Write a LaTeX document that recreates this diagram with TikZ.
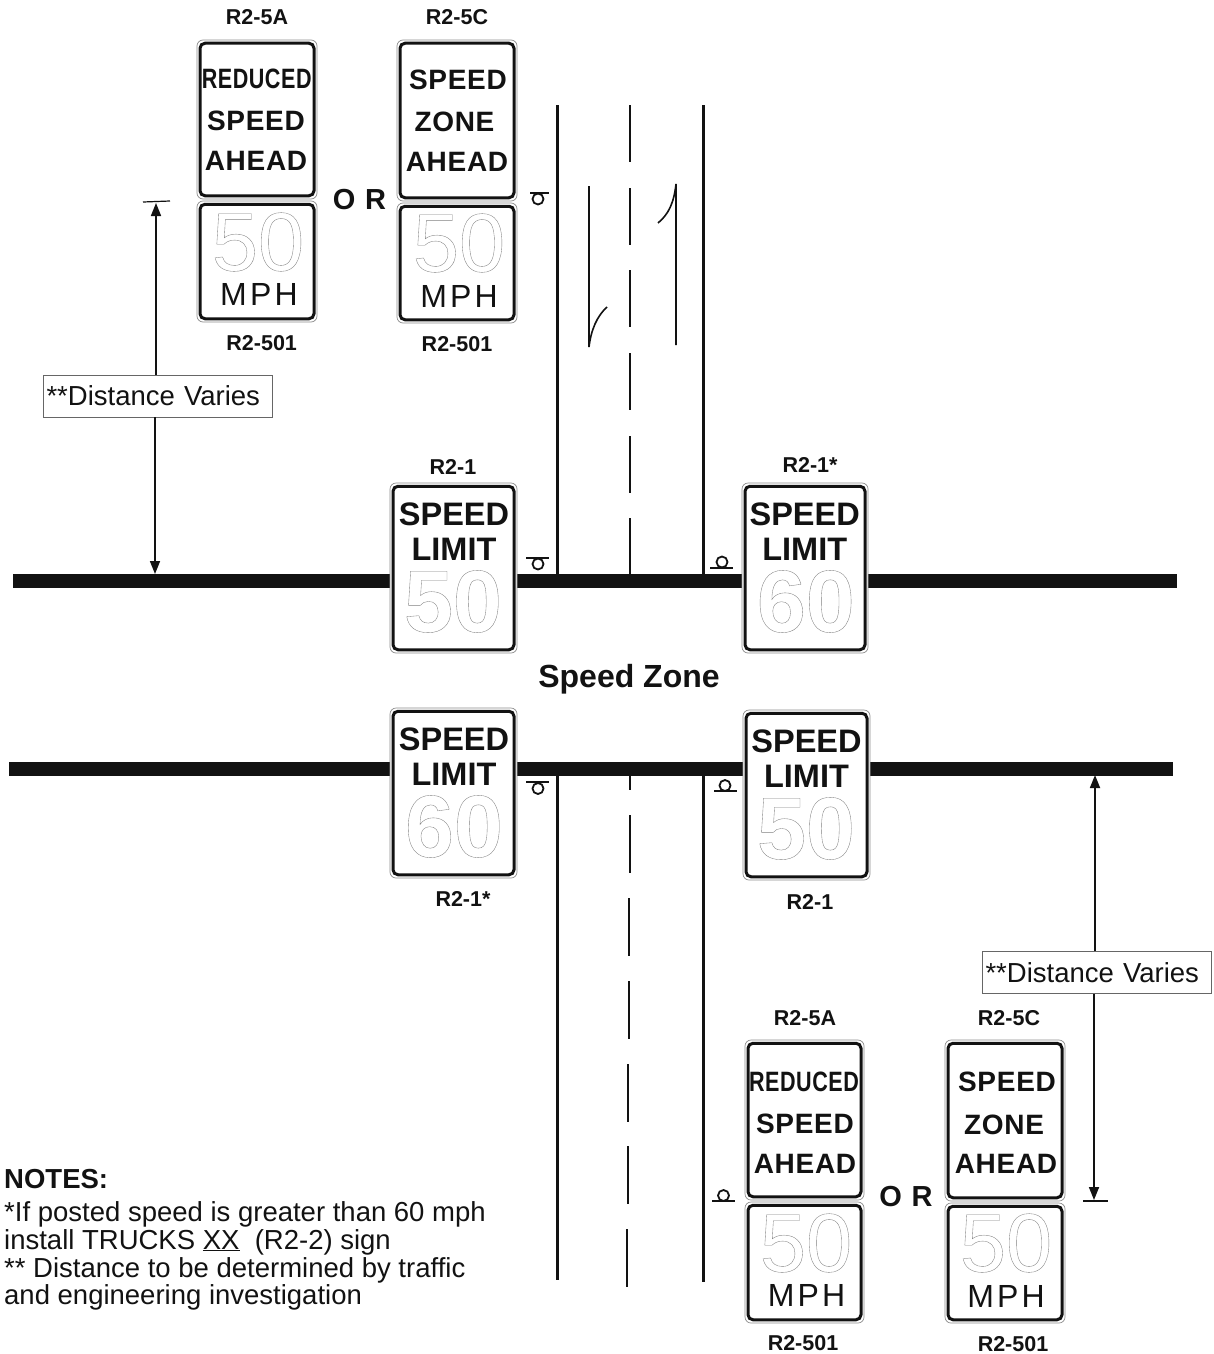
\documentclass[tikz,border=0pt]{standalone}
\usepackage{fontspec}
\usepackage{tikz}
\usetikzlibrary{arrows.meta}
\setmainfont{Liberation Sans}
\newfontfamily\signfont[LetterSpace=2.5]{Liberation Sans}
\newfontfamily\mphfont[LetterSpace=10]{Liberation Sans}

\newcommand{\hollow}[1]{\special{pdf:code 1 Tr 0.35 w 0.5 G}#1\special{pdf:code 0 Tr 0 G}}
\newcommand{\fsize}[1]{\fontsize{#1}{#1}\selectfont}

% plate with thin rim and heavy inner border
\newcommand{\signplate}[5]{
	\node[plate,minimum width=#4pt,minimum height=#5pt] (#1) at (#2,#3) {};
	\node[face,minimum width=#4pt-6pt,minimum height=#5pt-6.5pt] (#1face) at (#2,#3) {};
}

\tikzset{
	road/.style={line width=14pt,color=black!93},
	sideroad/.style={line width=3pt,color=black!93},
	centerline/.style={line width=2pt,color=black!93},
	laneline/.style={line width=1.6pt,color=black!93},
	plate/.style={shape=rectangle,draw=black!45,line width=0.7pt,fill=white,rounded corners=6pt,inner sep=0pt},
	face/.style={shape=rectangle,draw=black!93,line width=3pt,rounded corners=5pt,inner sep=0pt},
	codelabel/.style={inner sep=0pt,font=\fsize{21.5}\bfseries,text=black!93},
	aheadtext/.style={inner sep=0pt,font=\fsize{28}\signfont\bfseries,text=black!93},
	limittext/.style={inner sep=0pt,font=\fsize{32.5}\bfseries,text=black!93},
	mphtext/.style={inner sep=0pt,font=\fsize{32}\mphfont,text=black!93},
	smalldigits/.style={inner sep=0pt,font=\fsize{83}},
	bigdigits/.style={inner sep=0pt,font=\fsize{88}\bfseries},
	ortext/.style={inner sep=0pt,font=\fsize{29}\bfseries,text=black!93},
	distbox/.style={shape=rectangle,draw=black!60,line width=0.8pt,fill=white,inner ysep=0pt,inner xsep=3.5pt,text width=222pt,align=left,minimum height=42pt,font=\fsize{27.5},text=black!93},
	distarrow/.style={line width=1.7pt,color=black!93,-{Triangle[length=13pt,width=10pt]}},
	tick/.style={line width=1.2pt,color=black!93},
	postsym/.style={line width=1.8pt,color=black!93},
	notetext/.style={inner sep=0pt,anchor=base west,font=\fsize{27.5},text=black!93}
}

\begin{document}
\begin{tikzpicture}[x=1pt,y=-1pt]
	\useasboundingbox (0,0) rectangle (1214,1354);

	% roads
	\draw[road] (13,581) -- (1177,581);
	\draw[road] (9,769) -- (1173,769);
	\draw[sideroad] (557,105) -- (557,575);
	\draw[sideroad] (703,105) -- (703,575);
	\draw[sideroad] (557,775) -- (557,1280);
	\draw[sideroad] (703,775) -- (703,1282);
	\foreach \y in {105,188,270,353,436,518}
		\draw[centerline] (630,\y) -- (630,\y+57);
	\draw[centerline] (630,775) -- (630,790);
	\foreach \y/\x in {815/629.5,898/629,981/628.5,1064/628,1146/627.5,1229/627}
		\draw[centerline] (\x,\y) -- (\x,\y+58);

	% lane arrows
	\draw[laneline] (607,307) .. controls (597,316) and (591,330) .. (589,347) -- (589,186);
	\draw[laneline] (658,223) .. controls (669,214) and (674,202) .. (676,184) -- (676,345);

	% sign post symbols
	\draw[postsym] (530,193) -- (549,193);
	\draw[postsym] (538,199) circle (5.5);
	\draw[postsym] (526,558) -- (549,558);
	\draw[postsym] (538,564) circle (5.5);
	\draw[postsym] (710,568) -- (733,568);
	\draw[postsym] (722,562) circle (5.5);
	\draw[postsym] (526,782) -- (549,782);
	\draw[postsym] (538,788.5) circle (5.5);
	\draw[postsym] (714,791) -- (737,791);
	\draw[postsym] (725,785.5) circle (5.5);
	\draw[postsym] (712,1201) -- (735,1201);
	\draw[postsym] (723.5,1195.5) circle (5.5);

	% top approach signs
	\signplate{ahA}{257}{119.5}{120}{159}
	\signplate{mphA}{257}{261.5}{120}{121}
	\signplate{ahC}{457}{120.5}{120}{161}
	\signplate{mphC}{457}{263}{120}{120}
	\node[codelabel] (lblA) at (257,17.5) {R2-5A};
	\node[codelabel] (lblC) at (457,17.5) {R2-5C};
	\node[aheadtext] (aReduced) at (256.7,79) {\scalebox{0.77}[1]{REDUCED}};
	\node[aheadtext] (aSpeed) at (256,121) {SPEED};
	\node[aheadtext] (aAhead) at (256,161) {AHEAD};
	\node[aheadtext] (cSpeed) at (458,80) {SPEED};
	\node[aheadtext] (cZone) at (454.5,122) {ZONE};
	\node[aheadtext] (cAhead) at (457,162) {AHEAD};
	\node[smalldigits] (aFifty) at (258,242) {\hollow{50}};
	\node[mphtext] (aMph) at (259,294.5) {MPH};
	\node[smalldigits] (cFifty) at (459,243) {\hollow{50}};
	\node[mphtext] (cMph) at (459,296) {MPH};
	\node[codelabel] (lblAb) at (261.7,343.5) {R2-501};
	\node[codelabel] (lblCb) at (457,344) {R2-501};
	\node[ortext] (orTop) at (359.5,200) {O\,\,R};

	% speed limit signs, upper road
	\signplate{limA}{453.5}{568}{127}{170}
	\signplate{limB}{805}{568}{126}{170}
	\node[codelabel] (lblLimA) at (453,467) {R2-1};
	\node[codelabel] (lblLimB) at (810,465) {R2-1*};
	\node[limittext] (limASpeed) at (454,514) {SPEED};
	\node[limittext] (limALimit) at (454,549) {LIMIT};
	\node[bigdigits] (limANum) at (453,601.5) {\hollow{50}};
	\node[limittext] (limBSpeed) at (804.7,514) {SPEED};
	\node[limittext] (limBLimit) at (804.7,549) {LIMIT};
	\node[bigdigits] (limBNum) at (805.8,601.5) {\hollow{60}};

	\node[inner sep=0pt,anchor=base,font=\fsize{32}\bfseries,text=black!93] (zone) at (629,687) {Speed Zone};

	% speed limit signs, lower road
	\signplate{limC}{453.5}{793}{127}{170}
	\signplate{limD}{806.5}{795}{127}{170}
	\node[limittext] (limCSpeed) at (454,739) {SPEED};
	\node[limittext] (limCLimit) at (454,774) {LIMIT};
	\node[bigdigits] (limCNum) at (454,826.5) {\hollow{60}};
	\node[limittext] (limDSpeed) at (806.5,741) {SPEED};
	\node[limittext] (limDLimit) at (806.5,776) {LIMIT};
	\node[bigdigits] (limDNum) at (806,828.5) {\hollow{50}};
	\node[codelabel] (lblLimC) at (463,899) {R2-1*};
	\node[codelabel] (lblLimD) at (810,902) {R2-1};

	% bottom approach signs
	\signplate{ahE}{804.5}{1120}{119}{160}
	\signplate{mphE}{804.5}{1262.5}{119}{121}
	\signplate{ahF}{1005}{1120.5}{120}{161}
	\signplate{mphF}{1005}{1263}{120}{120}
	\node[codelabel] (lblE) at (805,1018) {R2-5A};
	\node[codelabel] (lblF) at (1009,1018) {R2-5C};
	\node[aheadtext] (eReduced) at (804,1082) {\scalebox{0.77}[1]{REDUCED}};
	\node[aheadtext] (eSpeed) at (805,1124) {SPEED};
	\node[aheadtext] (eAhead) at (805,1164) {AHEAD};
	\node[aheadtext] (fSpeed) at (1007,1082) {SPEED};
	\node[aheadtext] (fZone) at (1004,1125) {ZONE};
	\node[aheadtext] (fAhead) at (1006,1164) {AHEAD};
	\node[smalldigits] (eFifty) at (806,1243) {\hollow{50}};
	\node[mphtext] (eMph) at (806.5,1295) {MPH};
	\node[smalldigits] (fFifty) at (1006,1243) {\hollow{50}};
	\node[mphtext] (fMph) at (1006,1296) {MPH};
	\node[codelabel] (lblEb) at (803,1343) {R2-501};
	\node[codelabel] (lblFb) at (1013,1344) {R2-501};
	\node[ortext] (orBot) at (906,1197) {O\,\,R};

	% distance dimensions
	\node[distbox] (distLeft) at (157.5,396) {**Distance Varies};
	\node[distbox] (distRight) at (1096.5,972.5) {**Distance Varies};
	\coordinate (leftTop) at (156,203);
	\coordinate (leftBot) at (155,574);
	\coordinate (rightTop) at (1095,775);
	\coordinate (rightBot) at (1094,1200);
	\draw[tick] (143,202) -- (170,201);
	\draw[tick] (1083,1201) -- (1108,1201);
	\draw[distarrow] (distLeft.north -| leftTop) -- (leftTop);
	\draw[distarrow] (distLeft.south -| leftBot) -- (leftBot);
	\draw[distarrow] (distRight.north -| rightTop) -- (rightTop);
	\draw[distarrow] (distRight.south -| rightBot) -- (rightBot);

	% notes
	\node[inner sep=0pt,anchor=base west,font=\fsize{27.5}\bfseries,text=black!93] (noteHead) at (4,1188) {NOTES:};
	\node[notetext] (noteA) at (4,1221) {*If posted speed is greater than 60 mph};
	\node[notetext] (noteB) at (4,1249) {install TRUCKS \underline{XX}\ \ (R2-2) sign};
	\node[notetext] (noteC) at (4,1277) {** Distance to be determined by traffic};
	\node[notetext] (noteD) at (4,1304) {and engineering investigation};

\end{tikzpicture}
\end{document}
